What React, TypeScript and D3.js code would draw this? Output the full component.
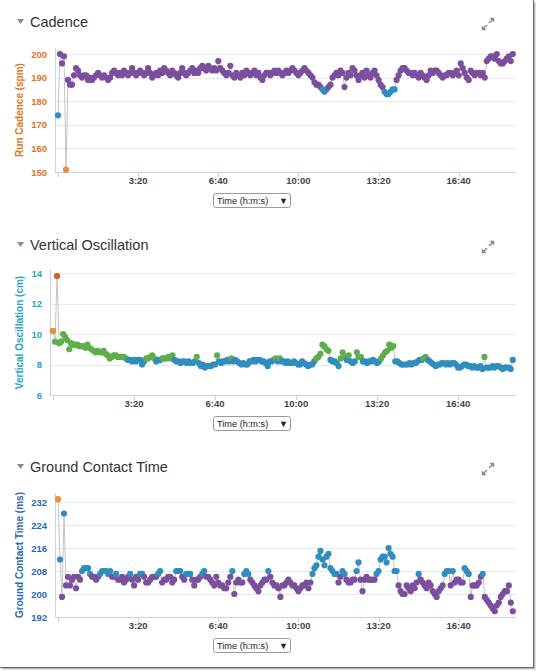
import React from "react";
import * as d3 from "d3";

// ---------- DATA (5 s sampling) ----------
const SAMPLE_SEC = 5;
const TIME_TICKS = [0, 200, 400, 600, 800, 1000];
const TIME_MAX = 1143;

const CADENCE = [
  174, 200, 196, 199, 151, 189, 187, 187, 191, 194, 193, 191, 190, 191, 191, 189, 190, 189, 190, 191,
  192, 191, 190, 191, 190, 189, 190, 192, 193, 192, 191, 192, 191, 193, 192, 191, 192, 194, 192, 191,
  192, 193, 192, 191, 192, 194, 192, 190, 191, 192, 191, 193, 192, 194, 193, 192, 191, 193, 192, 191,
  190, 192, 194, 192, 191, 192, 193, 194, 192, 193, 192, 194, 195, 194, 193, 195, 194, 193, 194, 193,
  197, 194, 193, 192, 191, 192, 195, 191, 190, 192, 191, 190, 192, 191, 193, 192, 191, 192, 193, 191,
  192, 190, 189, 191, 192, 192, 191, 192, 193, 192, 193, 192, 191, 192, 193, 192, 193, 194, 193, 192,
  191, 192, 193, 194, 193, 192, 191, 190, 188, 187, 187, 186, 185, 184, 185, 186, 187, 190, 191, 192,
  191, 193, 192, 186, 190, 192, 191, 194, 193, 191, 189, 191, 192, 190, 193, 191, 190, 192, 193, 191,
  189, 187, 186, 184, 183, 183, 184, 185, 185, 189, 191, 193, 194, 194, 193, 192, 192, 191, 192, 191,
  190, 192, 191, 190, 189, 191, 193, 192, 193, 193, 192, 191, 190, 191, 191, 192, 192, 191, 192, 193,
  191, 196, 194, 192, 190, 189, 193, 192, 191, 192, 192, 191, 192, 190, 197, 198, 199, 199, 198, 200,
  197, 196, 196, 197, 198, 199, 197, 200,
];

const VERT_OSC = [
  10.2, 9.5, 13.8, 9.4, 9.5, 10.0, 9.8, 9.6, 9.0, 9.4, 9.3, 9.3, 9.3, 9.2, 9.2, 9.2, 9.1, 9.3, 9.1, 9.0,
  8.9, 8.8, 8.9, 8.8, 8.8, 8.9, 8.7, 8.6, 8.4, 8.5, 8.6, 8.6, 8.5, 8.5, 8.5, 8.5, 8.4, 8.3, 8.3, 8.2,
  8.3, 8.2, 8.3, 8.3, 8.0, 8.2, 8.4, 8.4, 8.5, 8.6, 8.4, 8.2, 8.3, 8.3, 8.4, 8.4, 8.4, 8.5, 8.4, 8.6,
  8.3, 8.2, 8.2, 8.1, 8.2, 8.2, 8.1, 8.2, 8.1, 8.1, 8.2, 8.5, 8.1, 7.9, 8.0, 7.8, 7.9, 7.9, 7.9, 8.0,
  8.0, 8.6, 8.2, 8.1, 8.2, 8.2, 8.3, 8.2, 8.4, 8.2, 8.3, 8.2, 8.1, 8.0, 8.1, 8.0, 8.0, 8.2, 8.2, 8.3,
  8.2, 8.3, 8.3, 8.2, 8.2, 8.1, 7.9, 8.2, 8.2, 8.3, 8.4, 8.2, 8.4, 8.2, 8.2, 8.1, 8.2, 8.1, 8.1, 8.2,
  8.1, 8.0, 8.0, 8.2, 8.1, 8.0, 7.9, 8.0, 8.0, 8.2, 8.4, 8.5, 8.7, 9.3, 9.2, 9.0, 8.9, 8.3, 8.2, 8.2,
  8.1, 7.9, 8.4, 8.8, 8.5, 8.3, 8.6, 8.2, 8.1, 8.2, 8.8, 8.5, 8.5, 8.2, 8.2, 8.1, 8.2, 8.2, 8.3, 8.2,
  8.1, 8.2, 8.4, 8.6, 8.8, 8.9, 9.3, 9.1, 9.2, 8.2, 8.2, 8.1, 8.0, 8.0, 8.0, 8.0, 8.1, 8.0, 8.1, 8.1,
  8.2, 8.3, 8.3, 8.4, 8.5, 8.3, 8.2, 8.1, 8.0, 7.9, 8.0, 8.0, 8.1, 8.1, 8.0, 8.1, 8.0, 8.1, 8.1, 8.0,
  7.8, 7.8, 7.9, 8.0, 8.0, 7.9, 7.9, 7.8, 7.9, 7.8, 7.8, 7.9, 7.7, 8.5, 7.8, 7.8, 7.8, 7.9, 7.8, 7.9,
  7.9, 7.8, 7.7, 7.8, 7.8, 7.8, 7.7, 8.3,
];

const GROUND_CT = [
  233, 212, 199, 228, 203, 206, 203, 205, 206, 202, 206, 205, 208, 209, 209, 209, 207, 206, 206, 205,
  206, 207, 208, 208, 208, 207, 208, 206, 206, 207, 205, 205, 206, 204, 205, 206, 207, 205, 203, 206,
  205, 207, 207, 206, 204, 204, 205, 206, 206, 206, 207, 208, 204, 205, 205, 206, 206, 204, 205, 208,
  208, 208, 206, 205, 207, 207, 207, 205, 203, 205, 205, 206, 207, 208, 206, 206, 205, 204, 203, 206,
  204, 203, 203, 202, 202, 204, 206, 208, 200, 204, 205, 204, 204, 207, 208, 207, 205, 204, 203, 202,
  201, 203, 204, 205, 205, 208, 206, 204, 203, 203, 202, 199, 203, 203, 204, 205, 204, 203, 203, 202,
  201, 202, 203, 203, 204, 202, 204, 207, 209, 210, 213, 215, 212, 210, 213, 214, 209, 208, 207, 207,
  204, 206, 208, 207, 205, 204, 204, 205, 205, 208, 211, 205, 201, 205, 206, 205, 205, 205, 205, 207,
  208, 212, 213, 213, 211, 216, 214, 213, 208, 208, 203, 201, 200, 200, 203, 202, 201, 203, 202, 204,
  207, 205, 204, 203, 202, 204, 203, 201, 200, 199, 201, 202, 203, 207, 208, 208, 203, 208, 204, 205,
  205, 204, 204, 209, 208, 207, 199, 203, 203, 203, 204, 206, 207, 199, 198, 197, 196, 195, 194, 196,
  197, 199, 200, 201, 201, 203, 197, 194,
];

const CAD_TICKS = [150, 160, 170, 180, 190, 200];
const VO_TICKS = [6, 8, 10, 12, 14];
const GCT_TICKS = [192, 200, 208, 216, 224, 232];

const PURPLE = "#7b4f9e";
const BLUE = "#2f8dbf";
const GREEN = "#5fae4b";
const ORANGE = "#e8903a";
const RED_ORANGE = "#d45a1f";

const CAD_BREAKS = [160, 186];
const CAD_COLORS = [ORANGE, BLUE, PURPLE];
const VO_BREAKS = [8.35, 10.05, 12];
const VO_COLORS = [BLUE, GREEN, ORANGE, RED_ORANGE];
const GCT_BREAKS = [207, 230];
const GCT_COLORS = [PURPLE, BLUE, ORANGE];

const FONT = "'Liberation Sans', Arial, sans-serif";

function fmtTime(s: number) {
  const m = Math.floor(s / 60);
  const sec = s % 60;
  return `${m}:${sec < 10 ? "0" : ""}${sec}`;
}

type ChartProps = {
  title: string;
  yLabel: string;
  labelColor: string;
  values: number[];
  ticks: number[];
  breaks: number[];
  colors: string[];
  top: number;
  axisX: number;
  axisTop: number;
  yTopVal: number;
  yTopPx: number;
  yBottomPx: number;
};

function ExpandIcon({ x, y }: { x: number; y: number }) {
  return (
    <g stroke="#8a8a8a" fill="#8a8a8a" strokeWidth={1.5}>
      <line x1={x + 7} y1={y - 1} x2={x + 11} y2={y - 5} />
      <polygon points={`${x + 12},${y - 6} ${x + 12},${y - 2} ${x + 8},${y - 6}`} strokeWidth={0.5} />
      <line x1={x + 5} y1={y + 1} x2={x + 1} y2={y + 5} />
      <polygon points={`${x},${y + 6} ${x},${y + 2} ${x + 4},${y + 6}`} strokeWidth={0.5} />
    </g>
  );
}

function Chart(p: ChartProps) {
  const plotRight = 516;
  const x = d3.scaleLinear().domain([0, TIME_MAX]).range([p.axisX + 3, plotRight]);
  const y = d3
    .scaleLinear()
    .domain([p.ticks[0], p.yTopVal])
    .range([p.yBottomPx, p.yTopPx]);
  const zone = d3.scaleThreshold<number, string>().domain(p.breaks).range(p.colors);
  const pts = p.values.map((v, i) => ({ t: i * SAMPLE_SEC, v }));
  const line = d3
    .line<{ t: number; v: number }>()
    .x((d) => x(d.t))
    .y((d) => y(d.v));
  const bottom = p.yBottomPx;
  const plotMid = (p.axisTop + bottom) / 2;
  const ty = p.top;
  return (
    <g>
      <polygon points={`17,${ty - 3} 24,${ty - 3} 20.5,${ty + 2}`} fill="#8a8a8a" />
      <text x={30} y={ty + 5} fontFamily={FONT} fontSize={14.5} fill="#333">
        {p.title}
      </text>
      <ExpandIcon x={482} y={ty + 2} />
      {p.ticks.map((t) => (
        <line
          key={"g" + t}
          x1={p.axisX}
          x2={plotRight}
          y1={Math.round(y(t)) + 0.5}
          y2={Math.round(y(t)) + 0.5}
          stroke={t === p.ticks[0] ? "#c5d3e2" : "#e6e9ee"}
          strokeWidth={1}
        />
      ))}
      <line x1={p.axisX + 0.5} x2={p.axisX + 0.5} y1={p.axisTop} y2={bottom} stroke="#c5d3e2" />
      {TIME_TICKS.map((t) => (
        <g key={"x" + t}>
          <line
            x1={Math.round(x(t)) + 0.5}
            x2={Math.round(x(t)) + 0.5}
            y1={bottom}
            y2={bottom + 5}
            stroke="#c5d3e2"
          />
          {t > 0 && (
            <text
              x={x(t)}
              y={bottom + 12}
              textAnchor="middle"
              fontFamily={FONT}
              fontSize={9.5}
              fontWeight="bold"
              fill="#444"
            >
              {fmtTime(t)}
            </text>
          )}
        </g>
      ))}
      {p.ticks.map((t) => (
        <text
          key={"yl" + t}
          x={p.axisX - 8}
          y={y(t) + 3.5}
          textAnchor="end"
          fontFamily={FONT}
          fontSize={9.5}
          fontWeight="bold"
          fill={p.labelColor}
        >
          {t}
        </text>
      ))}
      <text
        transform={`translate(23,${plotMid}) rotate(-90)`}
        textAnchor="middle"
        fontFamily={FONT}
        fontSize={10}
        fontWeight="bold"
        fill={p.labelColor}
      >
        {p.yLabel}
      </text>
      <path d={line(pts) || ""} fill="none" stroke="#c4c4c4" strokeWidth={1} />
      {pts.map((d, i) => (
        <circle key={i} cx={x(d.t)} cy={y(d.v)} r={3.1} fill={zone(d.v)} />
      ))}
      <rect x={213.5} y={bottom + 21.5} width={77} height={14} rx={2} fill="#fff" stroke="#9a9a9a" />
      <text x={217} y={bottom + 32} fontFamily={FONT} fontSize={9.2} fill="#222">
        Time (h:m:s)
      </text>
      <text x={279} y={bottom + 32} fontFamily={FONT} fontSize={9} fill="#222">
        ▼
      </text>
    </g>
  );
}

export default function App() {
  return (
    <svg
      width={539}
      height={671}
      style={{ position: "absolute", left: 0, top: 0, background: "#fff" }}
    >
      <rect x={0} y={0} width={539} height={671} fill="#fff" />
      <Chart
        title="Cadence"
        yLabel="Run Cadence (spm)"
        labelColor="#dd7426"
        values={CADENCE}
        ticks={CAD_TICKS}
        breaks={CAD_BREAKS}
        colors={CAD_COLORS}
        top={22}
        axisX={55}
        axisTop={48}
        yTopVal={200}
        yTopPx={54}
        yBottomPx={172}
      />
      <Chart
        title="Vertical Oscillation"
        yLabel="Vertical Oscillation (cm)"
        labelColor="#25a6c9"
        values={VERT_OSC}
        ticks={VO_TICKS}
        breaks={VO_BREAKS}
        colors={VO_COLORS}
        top={245}
        axisX={50}
        axisTop={270}
        yTopVal={14}
        yTopPx={273}
        yBottomPx={395}
      />
      <Chart
        title="Ground Contact Time"
        yLabel="Ground Contact Time (ms)"
        labelColor="#2a68b4"
        values={GROUND_CT}
        ticks={GCT_TICKS}
        breaks={GCT_BREAKS}
        colors={GCT_COLORS}
        top={467}
        axisX={55}
        axisTop={493}
        yTopVal={232}
        yTopPx={502}
        yBottomPx={617}
      />
      <line x1={533.5} x2={533.5} y1={0} y2={668} stroke="#6a6a6a" />
      <line x1={534.5} x2={534.5} y1={2} y2={669} stroke="#b8b8b8" />
      <line x1={535.5} x2={535.5} y1={3} y2={670} stroke="#e0e0e0" />
      <line x1={0} x2={534} y1={667.5} y2={667.5} stroke="#6a6a6a" />
      <line x1={2} x2={535} y1={668.5} y2={668.5} stroke="#b8b8b8" />
      <line x1={3} x2={536} y1={669.5} y2={669.5} stroke="#e0e0e0" />
    </svg>
  );
}
